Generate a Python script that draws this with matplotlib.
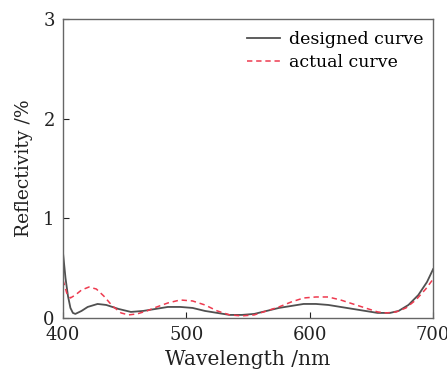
import matplotlib
matplotlib.use("Agg")
import matplotlib.pyplot as plt

wl_designed = [400, 402, 404, 406, 408, 410, 415, 420, 428, 435, 445, 455, 465, 475, 485, 495,
               505, 515, 525, 535, 545, 555, 565, 575, 585, 595, 605, 615, 625, 635, 645, 655,
               665, 672, 680, 688, 695, 700]
r_designed = [0.65, 0.40, 0.22, 0.10, 0.05, 0.04, 0.07, 0.11, 0.14, 0.13, 0.09, 0.06, 0.07, 0.09, 0.11, 0.11,
              0.10, 0.07, 0.05, 0.03, 0.03, 0.04, 0.07, 0.10, 0.12, 0.14, 0.14, 0.13, 0.11, 0.09, 0.07, 0.05,
              0.05, 0.07, 0.13, 0.23, 0.36, 0.49]

wl_actual = [400, 403, 406, 410, 415, 421, 427, 433, 440, 447, 453, 460, 468, 476, 485, 495,
             505, 515, 525, 535, 545, 555, 565, 575, 585, 595, 605, 615, 625, 635, 645, 655,
             662, 670, 678, 686, 694, 700]
r_actual = [0.38, 0.25, 0.20, 0.23, 0.28, 0.31, 0.29, 0.22, 0.12, 0.05, 0.03, 0.04, 0.07, 0.11, 0.15, 0.18,
            0.17, 0.13, 0.07, 0.03, 0.02, 0.03, 0.07, 0.11, 0.16, 0.20, 0.21, 0.21, 0.18, 0.14, 0.10, 0.06,
            0.05, 0.06, 0.10, 0.18, 0.29, 0.39]

x_ticks = [400, 500, 600, 700]
y_ticks = [0, 1, 2, 3]

plt.rcParams['font.family'] = ['DejaVu Serif']
fig = plt.figure(figsize=(4.47, 3.74), dpi=100)
ax = fig.add_axes([0.141, 0.150, 0.828, 0.799])
ax.plot(wl_designed, r_designed, color='#505050', lw=1.3, label='designed curve')
ax.plot(wl_actual, r_actual, color='#ee3a4f', lw=1.1, ls=(0, (3.5, 2.5)), label='actual curve')
ax.set_xlim(400, 700)
ax.set_ylim(0, 3)
ax.set_xticks(x_ticks)
ax.set_yticks(y_ticks)
ax.tick_params(direction='in', length=4, labelsize=13, colors='#222222')
ax.tick_params(axis='x', pad=6)
ax.tick_params(axis='y', pad=6)
for s in ax.spines.values():
    s.set_color('#666666')
    s.set_linewidth(1.0)
ax.set_xlabel('Wavelength /nm', fontsize=14.5, labelpad=4, color='#222222')
ax.set_ylabel('Reflectivity /%', fontsize=13.5, labelpad=7, color='#222222')
ax.legend(loc='upper right', frameon=False, fontsize=12.5, handlelength=1.9,
          handletextpad=0.5, borderaxespad=0.1, labelspacing=0.35,
          bbox_to_anchor=(0.997, 0.99))
fig.savefig('out.png', dpi=100)
